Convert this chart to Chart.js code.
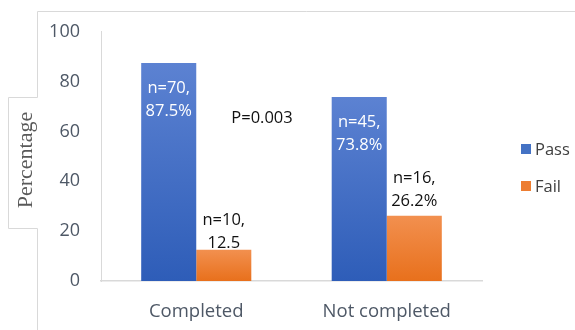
<!DOCTYPE html>
<html>
<head>
<meta charset="utf-8">
<script src="https://cdn.jsdelivr.net/npm/chart.js@4.4.0/dist/chart.umd.min.js"></script>
<style>
html,body{margin:0;padding:0;background:#fff;}
#container{width:575px;height:330px;}
</style>
</head>
<body>
<div id="container"><canvas id="graphe" width="575" height="330"></canvas></div>
<script>
// chart data
const categories = ["Completed", "Not completed"];
const seriesNames = ["Pass", "Fail"];
const passValues = [87.5, 73.8];
const failValues = [12.5, 26.2];
const passCounts = [70, 45];
const failCounts = [10, 16];
const passTexts = ["87.5%", "73.8%"];
const failTexts = ["12.5", "26.2%"];
const yTicks = [0, 20, 40, 60, 80, 100];
const pValueText = "P=0.003";
const yTitle = "Percentage";

const font = '"Open Sans", "Liberation Sans", sans-serif';
const blueTop = "#5c82d2", blueBottom = "#2e5db8";
const orangeTop = "#f2904f", orangeBottom = "#e8701c";
const legendColors = ["#4472c4", "#ed7d31"];

function barGradient(top, bottom){
    return function(c){
        const chart = c.chart;
        if(!chart.chartArea || c.type !== "data") return bottom;
        const y = chart.scales.y;
        const y0 = y.getPixelForValue(c.parsed.y);
        const y1 = y.getPixelForValue(0);
        const g = chart.ctx.createLinearGradient(0, y0, 0, y1);
        g.addColorStop(0, top);
        g.addColorStop(1, bottom);
        return g;
    };
}

// outline, title, labels, p value and legend
const decor = {
    id: "decor",
    beforeDraw(chart){
        const ctx = chart.ctx;
        ctx.save();
        ctx.strokeStyle = "#d9d9d9";
        ctx.lineWidth = 1;
        ctx.beginPath();
        ctx.moveTo(575, 11.5);
        ctx.lineTo(37.5, 11.5);
        ctx.lineTo(37.5, 97.5);
        ctx.lineTo(8.5, 97.5);
        ctx.lineTo(8.5, 228.5);
        ctx.lineTo(37.5, 228.5);
        ctx.lineTo(37.5, 330);
        ctx.stroke();
        ctx.restore();
    },
    afterDraw(chart){
        const ctx = chart.ctx;
        ctx.save();
        ctx.textAlign = "center";
        ctx.textBaseline = "middle";
        ctx.font = "16.5px " + font;

        chart.getDatasetMeta(0).data.forEach((bar, i) => {
            ctx.fillStyle = "#ffffff";
            ctx.fillText("n=" + passCounts[i] + ",", bar.x, bar.y + 25);
            ctx.fillText(passTexts[i], bar.x, bar.y + 48);
        });
        const lift = [7, 14];
        chart.getDatasetMeta(1).data.forEach((bar, i) => {
            ctx.fillStyle = "#111111";
            ctx.fillText("n=" + failCounts[i] + ",", bar.x, bar.y - lift[i] - 23);
            ctx.fillText(failTexts[i], bar.x, bar.y - lift[i]);
        });

        ctx.fillStyle = "#111111";
        ctx.fillText(pValueText, 262, 118);

        // legend
        ctx.textAlign = "left";
        chart.data.datasets.forEach((ds, i) => {
            const ly = 149 + i * 37;
            ctx.fillStyle = legendColors[i];
            ctx.fillRect(521, ly - 5, 10, 10);
            ctx.fillStyle = "#404040";
            ctx.fillText(ds.label, 535, ly + 1);
        });

        // y title
        ctx.translate(26, 160);
        ctx.rotate(-Math.PI / 2);
        ctx.textAlign = "center";
        ctx.fillStyle = "#595959";
        ctx.font = '22px "Liberation Serif", "DejaVu Serif", serif';
        ctx.fillText(yTitle, 0, 0);
        ctx.restore();
    }
};

var ctx = document.getElementById("graphe");
var chart = new Chart(ctx, {
    type: "bar",
    data: {
        labels: categories,
        datasets: [{
            label: seriesNames[0],
            data: passValues,
            backgroundColor: barGradient(blueTop, blueBottom),
            categoryPercentage: 0.578,
            barPercentage: 1
        }, {
            label: seriesNames[1],
            data: failValues,
            backgroundColor: barGradient(orangeTop, orangeBottom),
            categoryPercentage: 0.578,
            barPercentage: 1
        }]
    },
    options: {
        responsive: false,
        devicePixelRatio: 1,
        animation: false,
        layout: {padding: {left: 40, right: 93, top: 25, bottom: 0}},
        plugins: {
            legend: {display: false},
            tooltip: {enabled: false}
        },
        scales: {
            x: {
                grid: {display: false, drawTicks: false},
                border: {display: true, color: "#d9d9d9", width: 1.5},
                ticks: {color: "#4e5866", font: {family: font, size: 18.5}, padding: 20},
                afterFit: s => { s.height = 49; }
            },
            y: {
                min: 0,
                max: 100,
                afterBuildTicks: s => { s.ticks = yTicks.map(v => ({value: v})); },
                grid: {display: false, drawTicks: false},
                border: {display: true, color: "#d9d9d9", width: 1},
                ticks: {color: "#4e5866", font: {family: font, size: 18}, padding: 21},
                afterFit: s => { s.width = 61; }
            }
        }
    },
    plugins: [decor]
});
</script>
</body>
</html>
